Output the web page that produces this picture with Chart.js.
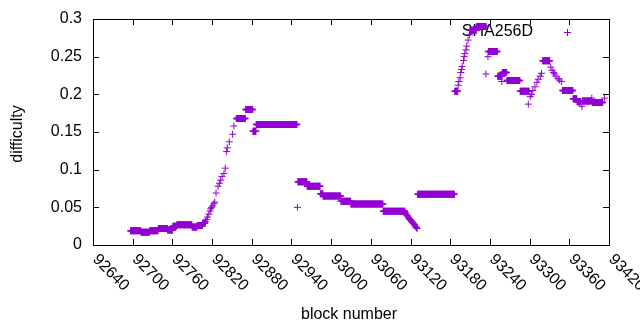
<!DOCTYPE html>
<html>
<head>
<meta charset="utf-8">
<script src="https://cdn.jsdelivr.net/npm/chart.js@4/dist/chart.umd.min.js"></script>
<style>
  html, body { margin: 0; padding: 0; background: #fff; }
</style>
</head>
<body>
<canvas id="chart" width="640" height="330"></canvas>
<script>
// ===================================
// DATA
// ===================================

// stretches where the difficulty stays flat, one point per block
const runStart = [92697, 92713, 92726, 92739, 92753, 92761, 92767, 92790, 92798, 92806,
                  92857, 92871, 92882, 92887, 92950, 92964, 92984, 92988, 93015, 93030,
                  93079, 93131, 93187, 93210, 93220, 93238, 93252, 93259, 93266, 93286,
                  93320, 93350, 93366, 93372, 93380, 93395];
const runEnd   = [92712, 92725, 92738, 92752, 92760, 92766, 92789, 92797, 92805, 92809,
                  92870, 92881, 92886, 92948, 92963, 92983, 92987, 93014, 93029, 93078,
                  93111, 93186, 93191, 93219, 93234, 93251, 93258, 93265, 93285, 93299,
                  93330, 93365, 93371, 93377, 93393, 93410];
const runValue = [0.019, 0.017, 0.019, 0.022, 0.020, 0.025, 0.027, 0.024, 0.026, 0.029,
                  0.168, 0.180, 0.151, 0.160, 0.084, 0.078, 0.068, 0.065, 0.058, 0.0545,
                  0.0447, 0.0675, 0.204, 0.285, 0.290, 0.257, 0.224, 0.229, 0.2185, 0.204,
                  0.2445, 0.205, 0.194, 0.190, 0.191, 0.189];

// single blocks (ramps and stray points)
const pointBlock = [92810, 92812, 92813, 92815, 92817, 92818, 92819, 92821, 92823, 92824,
                    92826, 92829, 92831, 92833, 92835, 92838, 92840, 92842, 92843, 92846,
                    92851, 92853, 92949,
                    93112, 93113, 93114, 93115, 93116, 93117, 93118, 93119, 93120, 93121,
                    93122, 93123, 93124, 93125, 93126, 93127, 93128, 93129, 93130,
                    93192, 93193, 93195, 93196, 93197, 93198, 93200, 93201, 93202, 93204,
                    93205, 93207, 93209, 93234, 93237, 93258,
                    93298, 93301, 93303, 93305, 93308, 93311, 93313, 93316, 93318,
                    93332, 93334, 93336, 93338, 93340, 93343, 93345, 93348,
                    93379, 93394, 93413];
const pointValue = [0.031, 0.034, 0.037, 0.041, 0.045, 0.048, 0.050, 0.052, 0.055, 0.057,
                    0.069, 0.078, 0.082, 0.086, 0.091, 0.095, 0.102, 0.124, 0.129, 0.137,
                    0.147, 0.158, 0.050,
                    0.043, 0.041, 0.040, 0.039, 0.038, 0.036, 0.035, 0.034, 0.033, 0.032,
                    0.031, 0.030, 0.029, 0.028, 0.027, 0.025, 0.024, 0.023, 0.022,
                    0.212, 0.217, 0.222, 0.229, 0.233, 0.237, 0.245, 0.250, 0.254, 0.259,
                    0.264, 0.272, 0.279, 0.227, 0.250, 0.217,
                    0.187, 0.197, 0.200, 0.205, 0.210, 0.216, 0.220, 0.224, 0.228,
                    0.236, 0.232, 0.229, 0.227, 0.224, 0.221, 0.219, 0.217,
                    0.184, 0.195, 0.195];

const xTicks = [92640, 92700, 92760, 92820, 92880, 92940, 93000, 93060,
                93120, 93180, 93240, 93300, 93360, 93420];
const yTicks = [0, 0.05, 0.1, 0.15, 0.2, 0.25, 0.3];
const yTickLabels = ['0', '0.05', '0.1', '0.15', '0.2', '0.25', '0.3'];

const seriesLabel = 'SHA256D';
const xTitle = 'block number';
const yTitle = 'difficulty';

const PURPLE = '#9400d3';
const FONT = '16px "Liberation Sans", Arial, sans-serif';

// build the point lists
const runPoints = [];
runStart.forEach((start, i) => {
    for (let b = start; b <= runEnd[i]; b++) {
        runPoints.push({ x: b, y: runValue[i] });
    }
});
const singlePoints = pointBlock.map((b, i) => ({ x: b, y: pointValue[i] }));

// ===================================
// GNUPLOT-LIKE FRAME, TICKS, LABELS
// ===================================

function drawPlus(ctx, x, y, r) {
    ctx.beginPath();
    ctx.moveTo(x - r, y);
    ctx.lineTo(x + r, y);
    ctx.moveTo(x, y - r);
    ctx.lineTo(x, y + r);
    ctx.stroke();
}

const legendPlugin = {
    id: 'gpLegend',
    beforeDatasetsDraw(chart) {
        const ctx = chart.ctx;
        ctx.save();
        ctx.font = FONT;
        ctx.fillStyle = '#000';
        ctx.textAlign = 'right';
        ctx.textBaseline = 'middle';
        ctx.fillText(seriesLabel, 533, 32);
        ctx.strokeStyle = PURPLE;
        ctx.lineWidth = 1;
        drawPlus(ctx, 567.5, 32.5, 3.5);
        ctx.restore();
    }
};

const framePlugin = {
    id: 'gpFrame',
    afterDraw(chart) {
        const ctx = chart.ctx;
        const area = chart.chartArea;
        const xs = chart.scales.x;
        const ys = chart.scales.y;
        const tick = 6;

        ctx.save();
        ctx.strokeStyle = '#000';
        ctx.lineWidth = 1;
        ctx.strokeRect(area.left + 0.5, area.top + 0.5,
                       area.right - area.left, area.bottom - area.top);

        ctx.beginPath();
        xTicks.forEach(v => {
            const px = Math.round(xs.getPixelForValue(v)) + 0.5;
            ctx.moveTo(px, area.bottom);
            ctx.lineTo(px, area.bottom - tick);
            ctx.moveTo(px, area.top);
            ctx.lineTo(px, area.top + tick);
        });
        yTicks.forEach(v => {
            const py = Math.round(ys.getPixelForValue(v)) + 0.5;
            ctx.moveTo(area.left, py);
            ctx.lineTo(area.left + tick, py);
            ctx.moveTo(area.right, py);
            ctx.lineTo(area.right - tick, py);
        });
        ctx.stroke();

        ctx.font = FONT;
        ctx.fillStyle = '#000';

        // y tick labels
        ctx.textAlign = 'right';
        ctx.textBaseline = 'middle';
        yTicks.forEach((v, i) => {
            ctx.fillText(yTickLabels[i], area.left - 11, ys.getPixelForValue(v));
        });

        // x tick labels, rotated -45 like gnuplot
        ctx.textAlign = 'left';
        ctx.textBaseline = 'middle';
        xTicks.forEach(v => {
            ctx.save();
            ctx.translate(xs.getPixelForValue(v) + 2, area.bottom + 12);
            ctx.rotate(Math.PI / 4);
            ctx.fillText(String(v), 0, 0);
            ctx.restore();
        });

        // axis titles
        ctx.textAlign = 'center';
        ctx.fillText(xTitle, 349, 315);
        ctx.save();
        ctx.translate(18, 134);
        ctx.rotate(-Math.PI / 2);
        ctx.fillText(yTitle, 0, 0);
        ctx.restore();

        ctx.restore();
    }
};

// ===================================
// CHART
// ===================================

new Chart(document.getElementById('chart'), {
    type: 'scatter',
    data: {
        datasets: [
            {
                label: seriesLabel,
                data: runPoints,
                pointStyle: 'cross',
                pointRadius: 3.5,
                pointHoverRadius: 3.5,
                borderColor: PURPLE,
                backgroundColor: PURPLE,
                borderWidth: 1.5
            },
            {
                label: seriesLabel,
                data: singlePoints,
                pointStyle: 'cross',
                pointRadius: 3.5,
                pointHoverRadius: 3.5,
                borderColor: PURPLE,
                backgroundColor: PURPLE,
                borderWidth: 1
            }
        ]
    },
    options: {
        responsive: false,
        animation: false,
        events: [],
        layout: { padding: { left: 0, right: 31, top: 19, bottom: 0 } },
        plugins: {
            legend: { display: false },
            tooltip: { enabled: false }
        },
        scales: {
            x: {
                type: 'linear',
                min: 92640,
                max: 93420,
                grid: { display: false },
                border: { display: false },
                ticks: { display: false },
                afterFit: s => { s.height = 85; }
            },
            y: {
                min: 0,
                max: 0.3,
                grid: { display: false },
                border: { display: false },
                ticks: { display: false },
                afterFit: s => { s.width = 93; }
            }
        }
    },
    plugins: [legendPlugin, framePlugin]
});
</script>
</body>
</html>
